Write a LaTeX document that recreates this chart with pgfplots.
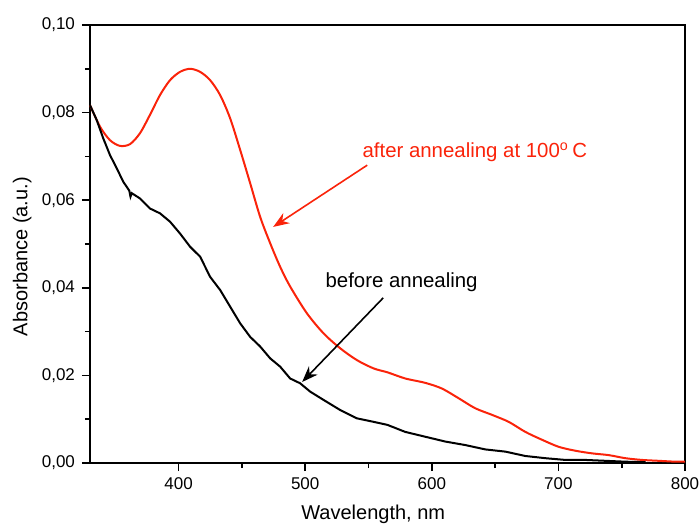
\documentclass[border=0pt]{standalone}
\usepackage{fontspec}
\setmainfont{Liberation Sans}
\usepackage{pgfplots}
\pgfplotsset{compat=1.18}
\usetikzlibrary{arrows.meta}

\definecolor{spred}{RGB}{250,35,10}

\begin{document}
\begin{tikzpicture}
\begin{axis}[
    at={(0,0)}, anchor=south west,
    scale only axis,
    width=297.5pt, height=219pt,
    xmin=330, xmax=800,
    ymin=0, ymax=0.10,
    xtick={400,500,600,700,800},
    ytick={0,0.02,0.04,0.06,0.08,0.10},
    minor x tick num=1,
    minor y tick num=1,
    xtick pos=bottom, ytick pos=left,
    tick align=outside,
    major tick length=4pt, minor tick length=2.5pt,
    axis line style={line width=1pt},
    every tick/.style={black, line width=0.8pt},
    /pgf/number format/assume math mode=true,
    yticklabel style={/pgf/number format/.cd, fixed, fixed zerofill, precision=2, use comma},
    xticklabel style={/pgf/number format/.cd, fixed, 1000 sep={}},
    tick label style={font=\fontsize{8.5}{10}\selectfont},
    every axis y label/.style={at={(axis description cs:-0.114,0.471)}, rotate=90, anchor=center, font=\fontsize{10}{12}\selectfont},
    every axis x label/.style={at={(axis description cs:0.476,-0.095)}, anchor=north, inner sep=0pt, font=\fontsize{10}{12}\selectfont},
    xlabel={Wavelength, nm},
    ylabel={Absorbance (a.u.)},
    clip=false,
]

% after annealing at 100 C
\addplot[spred, line width=1pt, smooth, tension=0.5] coordinates {
    (330,0.0817) (337.9,0.0768) (345.8,0.0737) (353.7,0.0724) (361.6,0.0728)
    (369.5,0.0753) (377.4,0.0795) (385.3,0.0840) (393.2,0.0874) (401.1,0.0893)
    (409,0.0900) (417,0.0893) (424.9,0.0874) (432.8,0.0840) (440.7,0.0787)
    (448.6,0.0715) (456.5,0.0639) (464.4,0.0562) (472.3,0.0502) (480.2,0.0448)
    (488.1,0.0403) (501.3,0.0342) (514.5,0.0296) (527.6,0.0262) (540.8,0.0235)
    (554,0.0216) (565,0.0207) (579,0.0193) (594.8,0.0183) (608,0.0170)
    (621.1,0.0148) (634.3,0.0125) (647.5,0.0110) (660.7,0.0094) (673.9,0.0071)
    (687.1,0.0053) (700.2,0.0037) (713.4,0.0028) (726.6,0.0022) (739.7,0.0018)
    (752.9,0.0011) (766.1,0.0007) (779.3,0.0005) (792.5,0.0003) (800,0.0003)
};

% before annealing
\addplot[black, line width=1pt] coordinates {
    (330,0.0817) (335.3,0.0783) (340.5,0.0741) (345.8,0.0703) (351.1,0.0673)
    (356.3,0.0642) (361,0.0622) (362,0.0608) (363,0.0616) (369.5,0.0604)
    (377.4,0.0581) (385.3,0.0570) (393.2,0.0551) (401.1,0.0524) (409,0.0494)
    (417,0.0471) (424.9,0.0425) (432.8,0.0395) (440.7,0.0357) (448.6,0.0319)
    (456.5,0.0288) (464.4,0.0266) (472.3,0.0239) (480.2,0.0220) (488.1,0.0193)
    (496,0.0182) (503.9,0.0163) (514.5,0.0144) (527.6,0.0121) (540.8,0.0102)
    (554,0.0094) (565,0.0087) (579,0.0071) (594.8,0.0060) (610.6,0.0049)
    (626.4,0.0041) (642.3,0.0031) (658.1,0.0026) (673.9,0.0016) (689.7,0.0011)
    (705.5,0.0007) (721.3,0.0007) (737.2,0.0005) (753,0.0003) (768.8,0.0002)
};

\node[anchor=west, text=spred, inner sep=0pt, font=\fontsize{10.2}{12}\selectfont]
    at (axis cs:545,0.0710) {after annealing at 100\textsuperscript{o}\,C};
\draw[spred, line width=0.8pt, -{Stealth[length=8pt,width=6pt]}]
    (axis cs:549,0.0680) -- (axis cs:474.7,0.0539);

\node[anchor=west, text=black, inner sep=0pt, font=\fontsize{10.2}{12}\selectfont]
    at (axis cs:515.8,0.0413) {before annealing};
\draw[black, line width=0.8pt, -{Stealth[length=8pt,width=6pt]}]
    (axis cs:561.6,0.0377) -- (axis cs:497.6,0.0185);
\end{axis}
\pgfresetboundingbox
\path[use as bounding box] (-45pt,-31pt) rectangle (305pt,231.5pt);
\end{tikzpicture}
\end{document}
